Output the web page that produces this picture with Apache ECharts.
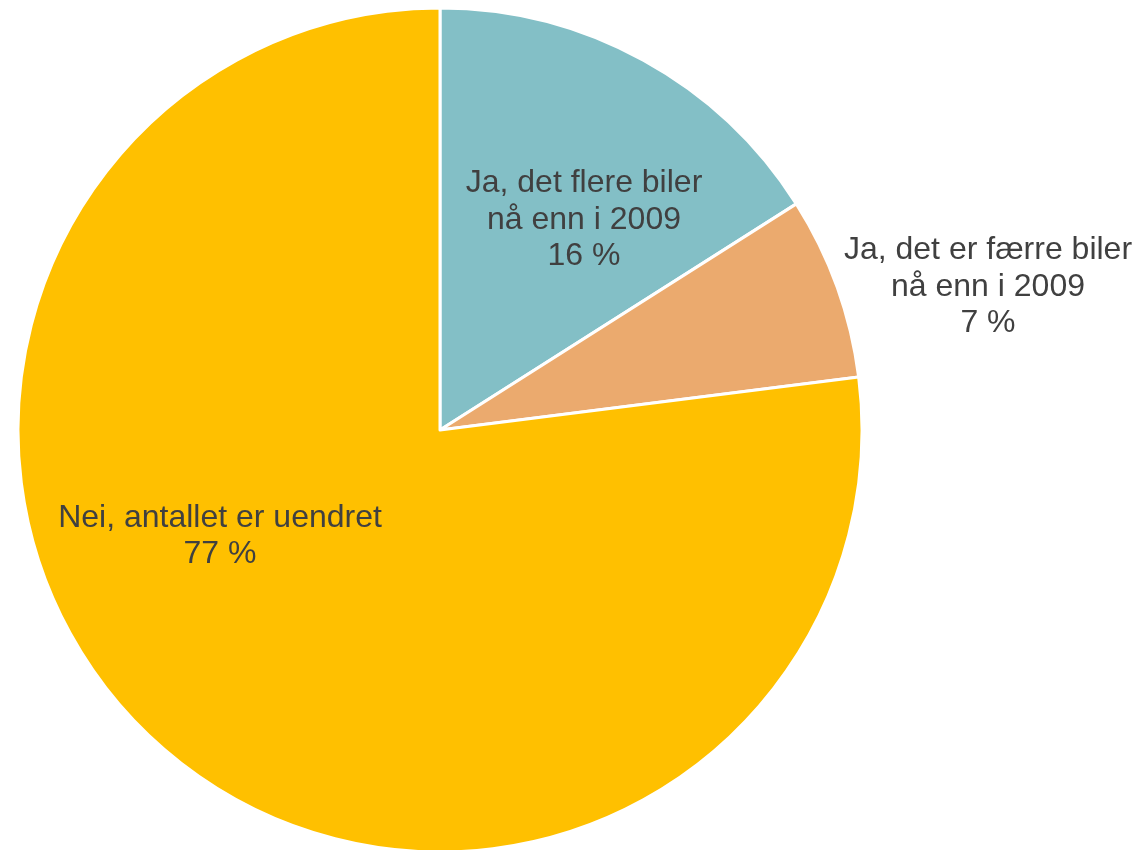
<!DOCTYPE html>
<html>
<head>
<meta charset="utf-8">
<script src="https://cdn.jsdelivr.net/npm/echarts@6/dist/echarts.min.js"></script>
<style>html,body{margin:0;padding:0;background:#fff;}#c{width:1140px;height:850px;}</style>
</head>
<body>
<div id="c"></div>
<script>
const categories = ["Ja, det flere biler\nnå enn i 2009", "Ja, det er færre biler\nnå enn i 2009", "Nei, antallet er uendret"];
const values = [16, 7, 77];
const colors = ["#83BFC6", "#EBAA6E", "#FFC000"];
const labelPos = [[584, 220], [988, 287], [220, 536]];

const chart = echarts.init(document.getElementById('c'), null, {renderer: 'canvas'});
chart.setOption({
  animation: false,
  series: [{
    type: 'pie',
    center: [440, 430],
    radius: 422,
    startAngle: 90,
    clockwise: true,
    data: categories.map((n, i) => ({name: n, value: values[i], itemStyle: {color: colors[i]}})),
    itemStyle: {borderColor: '#fff', borderWidth: 3},
    label: {
      show: true,
      position: 'inside',
      formatter: p => p.name + '\n' + p.value + ' %',
      color: '#404040',
      fontFamily: 'Liberation Sans, Arial, sans-serif',
      fontSize: 32,
      lineHeight: 36.5,
      align: 'center'
    },
    labelLine: {show: false},
    labelLayout: function (params) {
      const p = labelPos[params.dataIndex];
      return {x: p[0], y: p[1], align: 'center', verticalAlign: 'middle'};
    },
    emphasis: {disabled: true}
  }]
});
</script>
</body>
</html>
